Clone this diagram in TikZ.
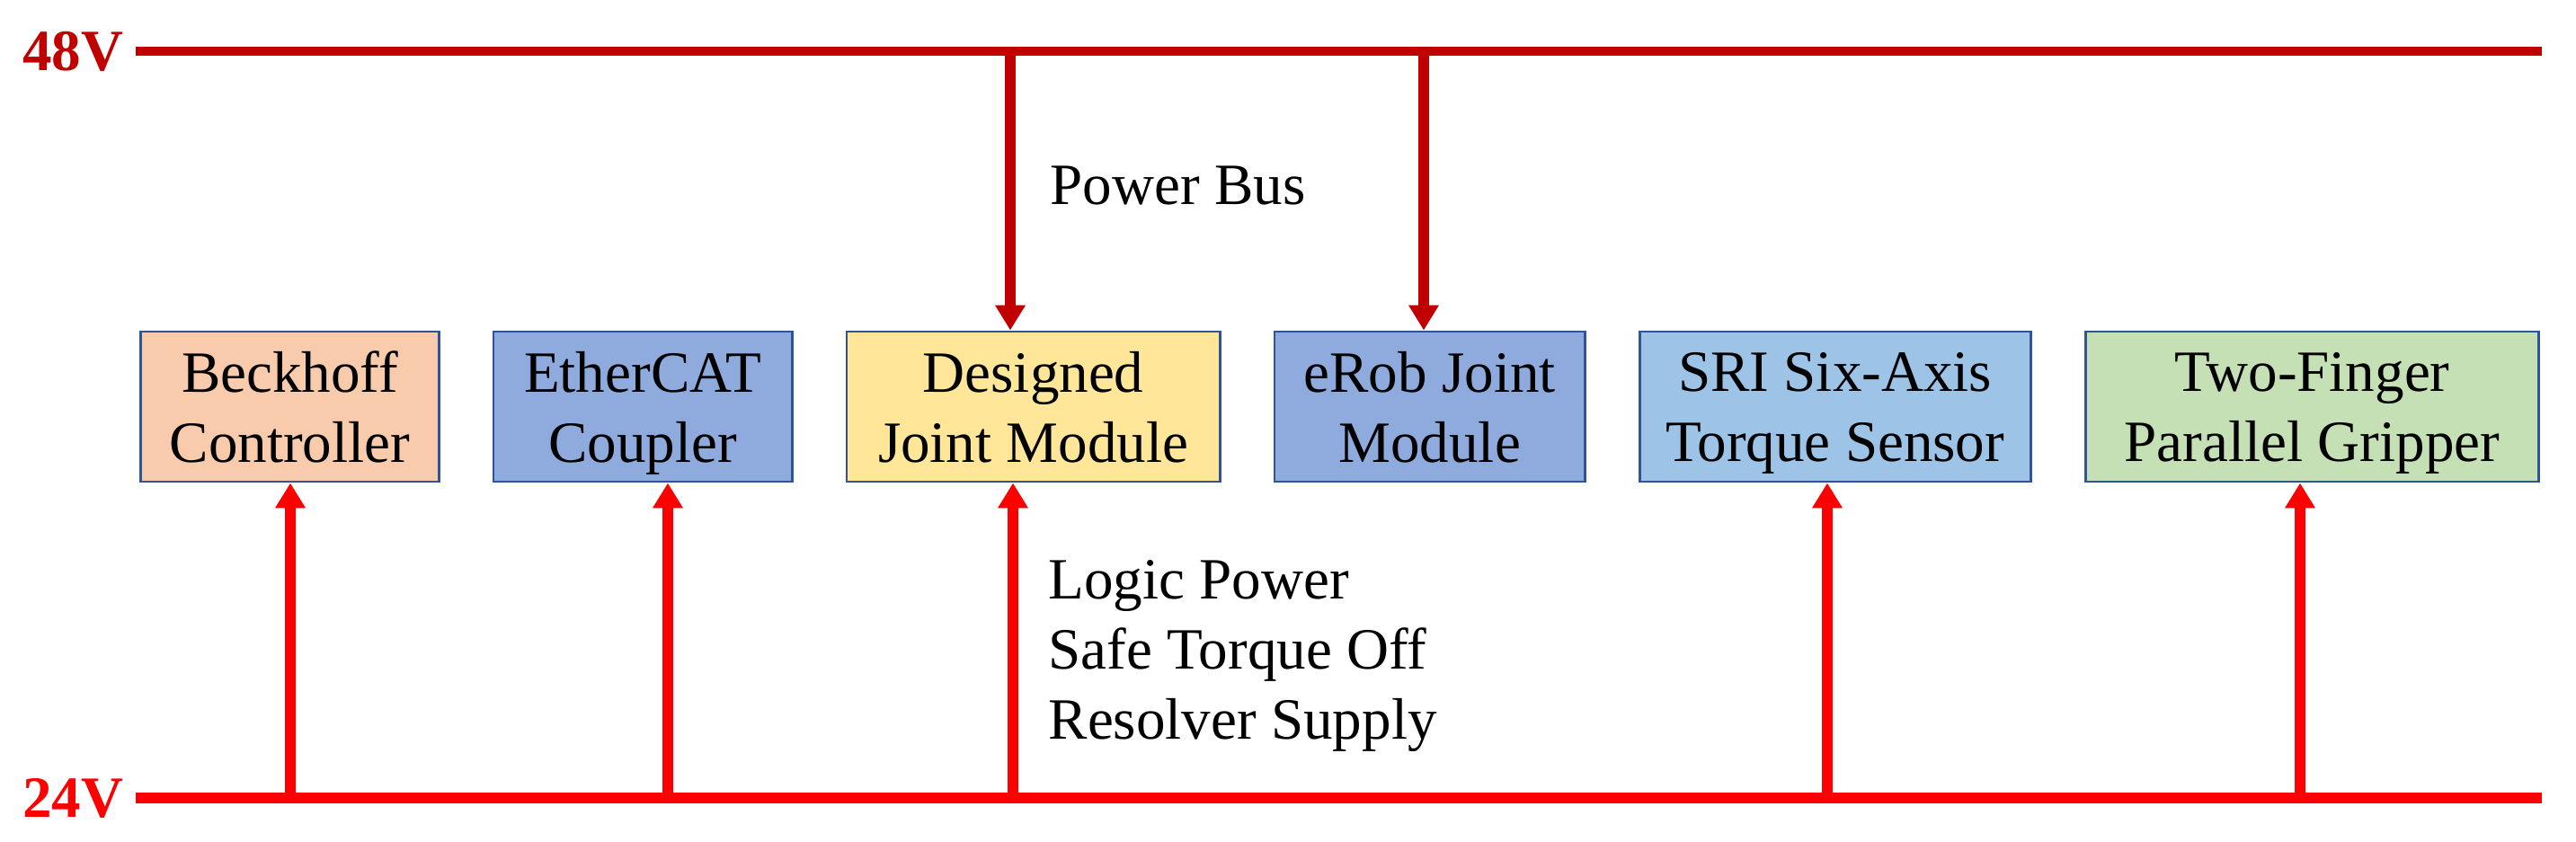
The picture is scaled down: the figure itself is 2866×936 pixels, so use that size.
\documentclass[tikz,border=0pt]{standalone}
\usepackage{fontspec}
\setmainfont{Liberation Serif}
\usepackage{xcolor}
\usepackage{tikz}
\usetikzlibrary{arrows.meta}
\usetikzlibrary{positioning}
\definecolor{bus48}{HTML}{C00000}
\definecolor{bus24}{HTML}{FF0000}
\definecolor{edgeblue}{HTML}{2F5597}
\definecolor{peach}{HTML}{F8CBAD}
\definecolor{steel}{HTML}{8FAADC}
\definecolor{sand}{HTML}{FFE699}
\definecolor{sky}{HTML}{9DC3E6}
\definecolor{sage}{HTML}{C5E0B4}
\tikzset{
  module node/.style={rectangle,draw=edgeblue,line width=0.8pt,minimum height=1.67cm,inner sep=0pt,text depth=0pt,align=center,font=\fontsize{18.5}{22.2}\selectfont},
  bus label/.style={font=\bfseries\fontsize{18.5}{22.2}\selectfont,inner sep=0pt},
  note/.style={font=\fontsize{18.5}{22.2}\selectfont,inner sep=0pt,align=left},
  feed48/.style={->,bus48,line width=3.2pt},
  feed24/.style={->,bus24,line width=3.2pt}
}

\begin{document}
\begin{tikzpicture}[x=0.01cm,y=-0.01cm,>={Triangle[width=0.32cm,length=0.28cm]}]
	\useasboundingbox (0,0) rectangle (2866,936);
	% supply rails
	\coordinate (s48) at (151,57);
	\coordinate (e48) at (2828,57);
	\coordinate (s24) at (151,888);
	\coordinate (e24) at (2828,888);
	\node [bus label,text=bus48,left=0.13cm of s48] (v48) {48V};
	\node [bus label,text=bus24,left=0.13cm of s24] (v24) {24V};
	\draw [bus48,line width=3.1pt] (s48) -- (e48);
	\draw [bus24,line width=3.4pt] (s24) -- (e24);
	% modules
	\node [module node,fill=peach,minimum width=3.31cm] (beckhoff) at (322.5,452.5) {Beckhoff\\Controller};
	\node [module node,fill=steel,minimum width=3.32cm,right=0.58cm of beckhoff] (ethercat) {EtherCAT\\Coupler};
	\node [module node,fill=sand,minimum width=4.15cm,right=0.58cm of ethercat] (designed) {Designed\\Joint Module};
	\node [module node,fill=steel,minimum width=3.45cm,right=0.58cm of designed] (erob) {eRob Joint\\Module};
	\node [module node,fill=sky,minimum width=4.35cm,right=0.58cm of erob] (sri) {SRI Six-Axis\\Torque Sensor};
	\node [module node,fill=sage,minimum width=5.04cm,right=0.58cm of sri] (gripper) {Two-Finger\\Parallel Gripper};
	% 48V taps
	\coordinate (p1) at (1124,57);
	\coordinate (p2) at (1584,57);
	\draw [feed48] (p1) -- (p1 |- designed.north);
	\draw [feed48] (p2) -- (p2 |- erob.north);
	% 24V taps
	\coordinate (t1) at (323,888);
	\coordinate (t2) at (743,888);
	\coordinate (t3) at (1127,888);
	\coordinate (t4) at (2033,888);
	\coordinate (t5) at (2559,888);
	\draw [feed24] (t1) -- (t1 |- beckhoff.south);
	\draw [feed24] (t2) -- (t2 |- ethercat.south);
	\draw [feed24] (t3) -- (t3 |- designed.south);
	\draw [feed24] (t4) -- (t4 |- sri.south);
	\draw [feed24] (t5) -- (t5 |- gripper.south);
	% notes
	\node [note,anchor=base west] (busnote) at (1168,227) {Power Bus};
	\node [note,anchor=north west] (logicnote) at (1166,623) {Logic Power\\Safe Torque Off\\Resolver Supply};
\end{tikzpicture}
\end{document}
